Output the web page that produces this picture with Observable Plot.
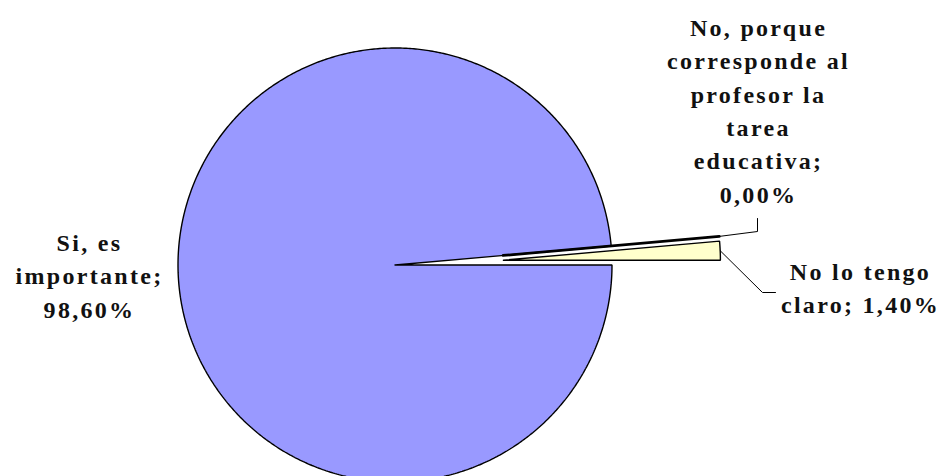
<!DOCTYPE html>
<html>
<head>
<meta charset="utf-8">
<script src="https://cdn.jsdelivr.net/npm/d3@7"></script>
<script src="https://cdn.jsdelivr.net/npm/@observablehq/plot@0.6"></script>
<style>
  html, body { margin: 0; padding: 0; background: #fff; }
  #chart svg { display: block; }
  #chart svg text { font-family: "Liberation Serif", "Times New Roman", Times, serif; }
</style>
</head>
<body>
<div id="chart"></div>
<script>
// ---- data ----
const labels = ["Si, es importante", "No, porque corresponde al profesor la tarea educativa", "No lo tengo claro"];
const values = [98.6, 0.0, 1.4];
const valueLabels = ["98,60%", "0,00%", "1,40%"];
const labelLines = [
  ["Si, es", "importante;", "98,60%"],
  ["No, porque", "corresponde al", "profesor la", "tarea", "educativa;", "0,00%"],
  ["No lo tengo", "claro; 1,40%"]
];
const colors = ["#9999FF", "#993366", "#FFFFCC"];
const exploded = [false, true, true];

// ---- layout ----
const W = 940, H = 476;
const cx = 394.5, cy = 264.5, R = 217, explode = 0.5 * R;
const labelPos = [
  {x: 89, y: 273},
  {x: 758, y: 108},
  {x: 860, y: 285}
];

const pie = d3.pie().sort(null).value(d => d).startAngle(Math.PI / 2).endAngle(Math.PI / 2 + 2 * Math.PI);
const arcs = pie(values);

function pt(a, r, ox, oy) { return {x: ox + r * Math.sin(a), y: oy - r * Math.cos(a)}; }

const slices = arcs.map((a, i) => {
  const mid = (a.startAngle + a.endAngle) / 2;
  const off = exploded[i] ? explode : 0;
  const o = pt(mid, off, cx, cy);
  const pts = [{x: o.x, y: o.y}];
  const span = a.endAngle - a.startAngle;
  const n = Math.max(1, Math.ceil(span / (Math.PI / 360)));
  if (span > 0) {
    for (let k = 0; k <= n; k++) pts.push(pt(a.startAngle + span * k / n, R, o.x, o.y));
    pts.push({x: o.x, y: o.y});
  } else {
    pts.push(pt(a.startAngle, R, o.x, o.y));
  }
  return {i, pts, o, mid, color: colors[i], zero: span === 0};
});

// leader lines
const s1 = slices[1], s2 = slices[2];
const end1 = pt(s1.mid, R, s1.o.x, s1.o.y);
const end2 = pt(s2.mid, R, s2.o.x, s2.o.y);
const leader1 = [end1, {x: 757, y: 231}, {x: 757, y: 218}];
const leader2 = [end2, {x: 762, y: 292}, {x: 775, y: 292}];

const marks = [];
[0, 2].forEach(i => {
  marks.push(Plot.line(slices[i].pts, {x: "x", y: "y", fill: slices[i].color, stroke: "black", strokeWidth: 1.4, strokeLinejoin: "miter"}));
});
marks.push(Plot.line(slices[1].pts, {x: "x", y: "y", stroke: "black", strokeWidth: 2.8}));
marks.push(Plot.line(leader1, {x: "x", y: "y", stroke: "black", strokeWidth: 1}));
marks.push(Plot.line(leader2, {x: "x", y: "y", stroke: "black", strokeWidth: 1}));

const textData = labelLines.map((lines, i) => ({text: lines.join("\n"), x: labelPos[i].x, y: labelPos[i].y}));
marks.push(Plot.text(textData, {
  x: "x", y: "y", text: "text",
  fontSize: 24, fontWeight: "bold", lineHeight: 1.39,
  fill: "#111", textAnchor: "middle"
}));

const chart = Plot.plot({
  width: W, height: H,
  margin: 0,
  x: {domain: [0, W], range: [0, W], axis: null},
  y: {domain: [0, H], range: [0, H], axis: null},
  style: {background: "#fff"},
  marks
});
chart.querySelectorAll("text").forEach(t => t.setAttribute("letter-spacing", "2.3"));
document.getElementById("chart").appendChild(chart);
</script>
</body>
</html>
